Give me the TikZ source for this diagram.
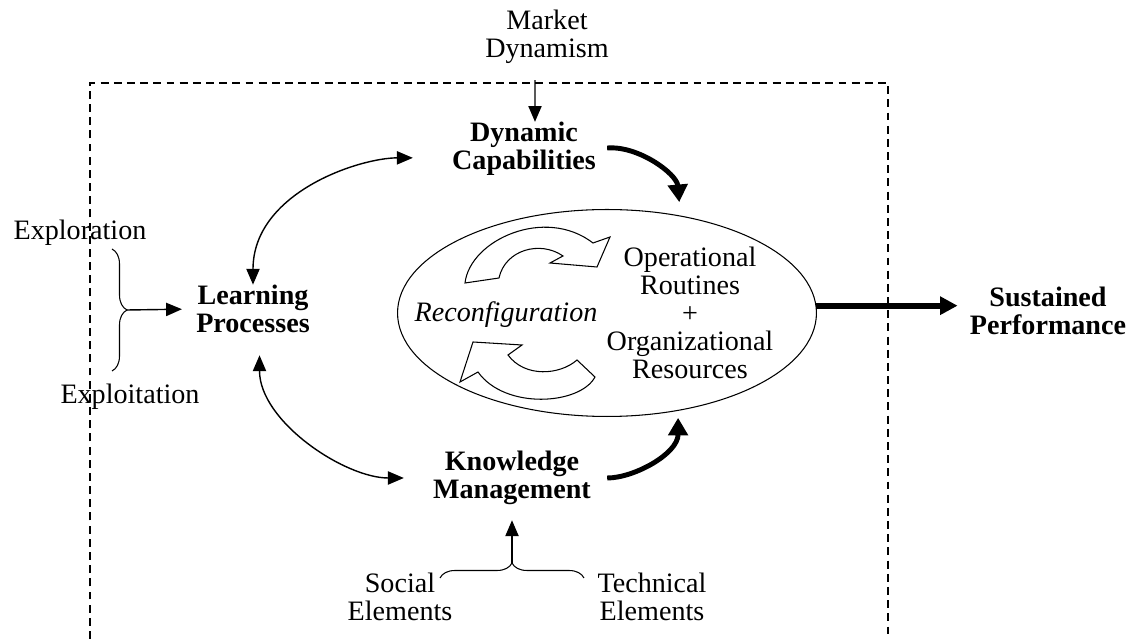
\documentclass[tikz,border=0pt]{standalone}
\usepackage{fontspec}
\setmainfont{Liberation Serif}
\usetikzlibrary{arrows.meta,shapes.geometric,decorations.pathreplacing}
\begin{document}
\begin{tikzpicture}[x=0.02cm,y=0.02cm,
        txt/.style={align=center,inner sep=0pt,font=\fontsize{16}{16}\selectfont},
        concept/.style={txt,font=\fontsize{16}{16}\selectfont\bfseries},
        link/.style={line width=0.8pt,-{Triangle[length=9pt,width=7.5pt]}},
        twoway/.style={line width=0.8pt,{Triangle[length=9pt,width=7.5pt]}-{Triangle[length=9pt,width=7.5pt]}},
        heavy/.style={line width=2.8pt,-{Triangle[length=10pt,width=11pt]}},
        bracket/.style={line width=0.6pt,decorate,decoration={brace,amplitude=0.3cm}},
        swirl/.style={draw,fill=white,line width=0.6pt}]
    \useasboundingbox (0,0) rectangle (1144,639);
    \draw[line width=0.6pt,dash pattern=on 4.5pt off 3pt] (90,0) |- (888,556) -- (888,0);
    \node[txt] (market) at (547,602) {Market\\Dynamism};
    \node[concept] (dyn) at (524,490) {Dynamic\\Capabilities};
    \node[concept] (learn) at (253,330) {Learning\\Processes};
    \node[concept] (know) at (512,161) {Knowledge\\Management};
    \node[concept] (perf) at (1048,328) {Sustained\\Performance};
    \node[draw,ellipse,line width=0.6pt,minimum width=8.38cm,minimum height=4.14cm,inner sep=0pt] (core) at (607,326) {};
    \node[txt,font=\fontsize{16}{16}\selectfont\itshape] (reconf) at (506,324) {Reconfiguration};
    \node[txt] (routines) at (690,326) {Operational\\Routines\\+\\Organizational\\Resources};
    \node[txt] (explor) at (80,406) {Exploration};
    \node[txt] (exploit) at (130,242) {Exploitation};
    \node[txt] (social) at (400,42) {Social\\Elements};
    \node[txt] (tech) at (652,42) {Technical\\Elements};
    \coordinate (lptop) at (112,390);
    \coordinate (lpbot) at (112,268);
    \coordinate (lptip) at (127,329);
    \coordinate (kmleft) at (440,61);
    \coordinate (kmright) at (584,61);
    \coordinate (kmtip) at (512,76);
    \draw[swirl] (465,356) .. controls (470,399) and (545,433) .. (593,396) -- (610,402) -- (597,372) -- (550,376) -- (563,383) .. controls (540,399) and (505,389) .. (499,361) -- cycle;
    \draw[swirl] (595,262) .. controls (580,234) and (505,229) .. (478,267) -- (460,257) -- (473,297) -- (522,294) -- (508,284) .. controls (525,261) and (560,264) .. (577,279) -- cycle;
    \draw[link,shorten <=0.32cm] ([xshift=-0.24cm]market.south) -- ([xshift=0.22cm]dyn.north);
    \draw[twoway,shorten >=0.78cm] (learn.north) to[out=90,in=180] (dyn.187);
    \draw[twoway,shorten <=0.44cm,shorten >=0.58cm] (learn.-75) to[out=-90,in=180] (know.west);
    \draw[heavy,shorten <=0.22cm,shorten >=0.27cm] (dyn.east) to[out=5,in=95] (core.53);
    \draw[heavy,shorten <=0.32cm,shorten >=0.14cm] (know.east) to[out=0,in=-90] (core.-54);
    \draw[heavy,line width=3.5pt,-{Triangle[length=10pt,width=10pt]},shorten >=0.24cm] (core.2) -- (core.2 -| perf.west);
    \draw[bracket] (lptop) -- (lpbot);
    \draw[link,shorten >=0.28cm] (lptip) -- (learn.west);
    \draw[bracket] (kmleft) -- (kmright);
    \draw[link,shorten >=0.3cm] (kmtip) -- (know.south);
\end{tikzpicture}
\end{document}
